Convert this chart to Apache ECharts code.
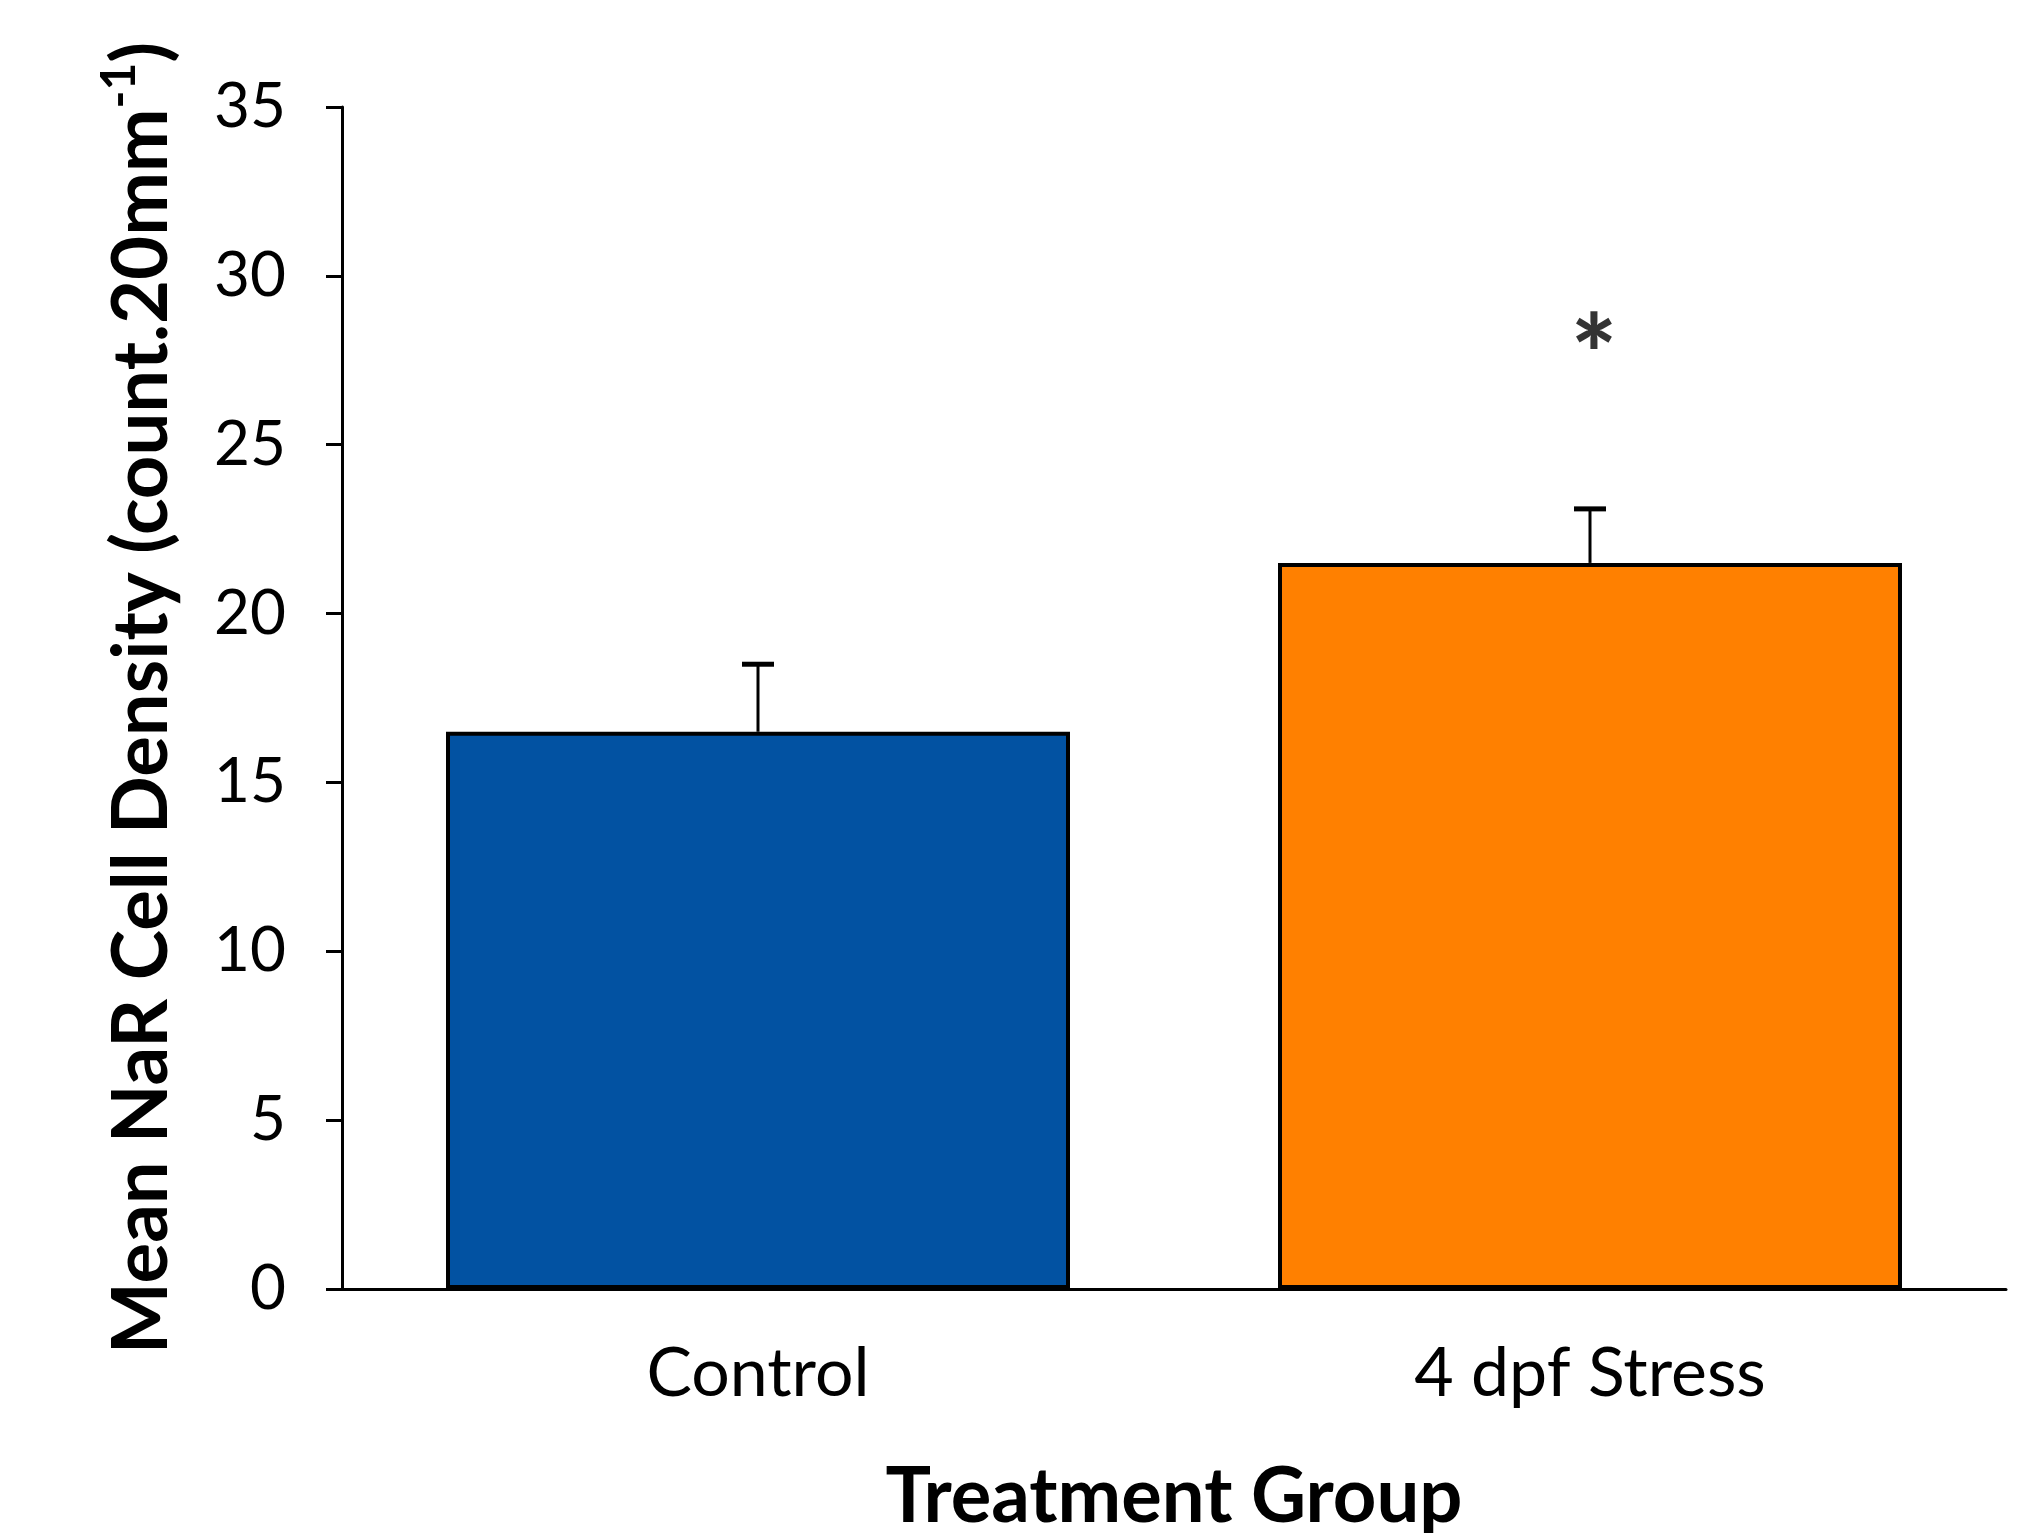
<!DOCTYPE html>
<html>
<head>
<meta charset="utf-8">
<script src="https://cdn.jsdelivr.net/npm/echarts@6/dist/echarts.min.js"></script>
<style>
  html, body { margin: 0; padding: 0; background: #ffffff; }
  #chart { width: 2023px; height: 1533px; }
</style>
</head>
<body>
<div id="chart"></div>
<script>
// Treatment groups and mean NaR cell density with standard error
const categories = ['Control', '4 dpf Stress'];
const means = [16.5, 21.5];
const errors = [2.0, 1.6];
const barColors = ['#0252A2', '#FF8000'];
const yTicks = { min: 0, max: 35, interval: 5 };
// significance marker placed over the stressed group
const sigMarks = [[1, 28.3, '*']];

const FONT = 'Lato, "Open Sans", sans-serif';

const chart = echarts.init(document.getElementById('chart'), null, { renderer: 'canvas' });

const barData = means.map((v, i) => ({
  value: v,
  itemStyle: { color: barColors[i], borderColor: '#000', borderWidth: 4 }
}));

const errData = means.map((v, i) => [i, v, errors[i]]);

chart.setOption({
  animation: false,
  backgroundColor: '#ffffff',
  grid: { left: 342, right: 17, top: 107, bottom: 244, containLabel: false, outerBoundsMode: 'none' },
  xAxis: {
    type: 'category',
    data: categories,
    name: 'Treatment Group',
    nameLocation: 'middle',
    nameGap: 170,
    nameTextStyle: { fontFamily: FONT, fontWeight: 'bold', fontSize: 76, color: '#000' },
    axisLine: { show: true, lineStyle: { color: '#000', width: 3 } },
    axisTick: { show: false },
    axisLabel: { fontFamily: FONT, fontSize: 68, color: '#000', margin: 51 },
    splitLine: { show: false }
  },
  yAxis: {
    type: 'value',
    min: yTicks.min,
    max: yTicks.max,
    interval: yTicks.interval,
    name: '{m|Mean NaR Cell Density (count.20mm}{s|-1}{m|)}',
    nameLocation: 'middle',
    nameRotate: 90,
    nameGap: 162,
    nameTextStyle: {
      fontFamily: FONT, fontWeight: 'bold', color: '#000',
      rich: {
        m: { fontFamily: FONT, fontWeight: 'bold', fontSize: 76, color: '#000', lineHeight: 90, verticalAlign: 'bottom' },
        s: { fontFamily: FONT, fontWeight: 'bold', fontSize: 48, color: '#000', lineHeight: 90, verticalAlign: 'top', padding: [6, 0, 0, 0] }
      }
    },
    axisLine: { show: true, lineStyle: { color: '#000', width: 3 } },
    axisTick: { show: true, inside: false, length: 16, lineStyle: { color: '#000', width: 3 } },
    axisLabel: { fontFamily: FONT, fontSize: 62, color: '#000', margin: 56 },
    splitLine: { show: false }
  },
  series: [
    {
      type: 'bar',
      data: barData,
      barCategoryGap: '25%',
      z: 2
    },
    {
      // upward error bars with caps
      type: 'custom',
      data: errData,
      z: 1,
      renderItem: function (params, api) {
        const x = api.value(0);
        const top = api.coord([x, api.value(1) + api.value(2)]);
        const base = api.coord([x, api.value(1)]);
        const capHalf = 16;
        return {
          type: 'group',
          children: [
            { type: 'line', shape: { x1: top[0], y1: base[1], x2: top[0], y2: top[1] },
              style: { stroke: '#000', lineWidth: 3 } },
            { type: 'line', shape: { x1: top[0] - capHalf, y1: top[1], x2: top[0] + capHalf, y2: top[1] },
              style: { stroke: '#000', lineWidth: 5 } }
          ]
        };
      }
    },
    {
      type: 'scatter',
      data: sigMarks.map(d => ({ value: [d[0], d[1]], label: { formatter: d[2] } })),
      symbolSize: 0,
      label: {
        show: true,
        position: 'inside',
        fontFamily: FONT,
        fontWeight: 900,
        fontSize: 108,
        color: '#000',
        padding: [48, 0, 0, 0],
        offset: [4, 26]
      }
    }
  ]
});
</script>
</body>
</html>
